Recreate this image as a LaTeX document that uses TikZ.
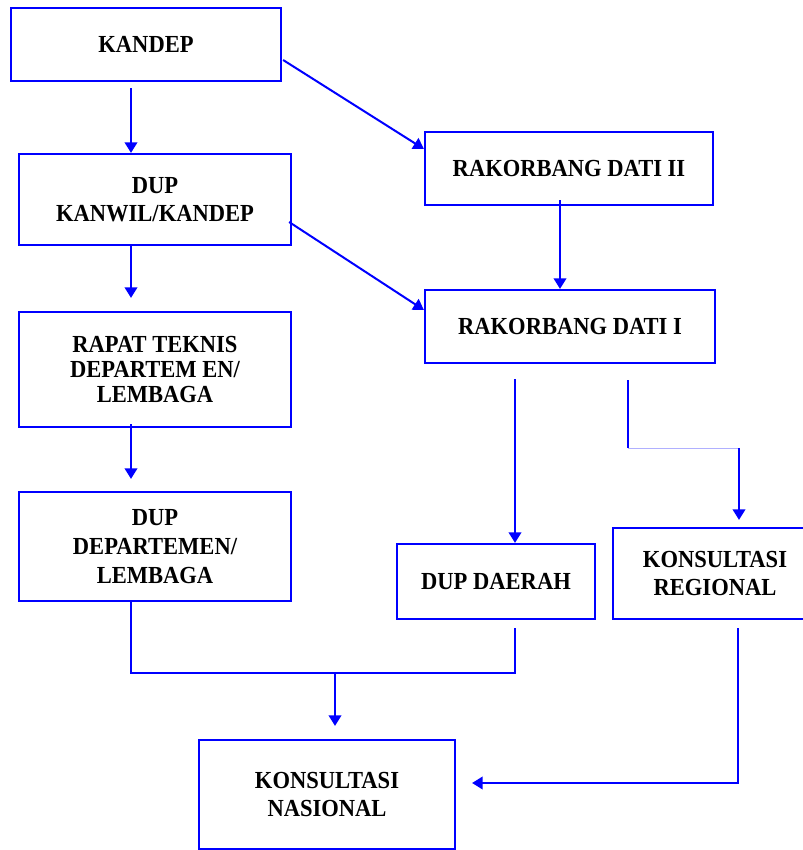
\documentclass[tikz,border=0pt]{standalone}
\usepackage{fontspec}
\setmainfont{Liberation Serif}[FakeStretch=0.92]
\usetikzlibrary{arrows.meta,calc}
\definecolor{lineblue}{RGB}{0,0,255}
\definecolor{faintblue}{RGB}{176,176,255}
\begin{document}
\begin{tikzpicture}[x=1pt,y=-1pt,
  box/.style={draw=lineblue, line width=2.2pt, inner sep=0pt, align=center,
              font=\fontsize{24.5}{28}\selectfont\bfseries},
  conn/.style={draw=lineblue, line width=2pt},
  arr/.style={conn, -{Triangle[length=10.5pt,width=12.5pt]}},
  faint/.style={draw=faintblue, line width=1pt}]
\useasboundingbox[fill=white] (0,0) rectangle (802,850);
% boxes
\node[box, minimum width=270pt, minimum height=73pt] (kandep) at (146,44.5) {KANDEP};
\node[box, minimum width=272pt, minimum height=91pt] (kanwil) at (155,199.5) {DUP\\KANWIL/KANDEP};
\node[box, minimum width=272pt, minimum height=115pt, font=\fontsize{24.5}{25}\selectfont\bfseries] (rapat) at (155,369.5) {RAPAT TEKNIS\\DEPARTEM EN/\\LEMBAGA};
\node[box, minimum width=272pt, minimum height=109pt, font=\fontsize{24.5}{29}\selectfont\bfseries] (dupdep) at (155,546.5) {DUP\\DEPARTEMEN/\\LEMBAGA};
\node[box, minimum width=288pt, minimum height=73pt] (rak2) at (569,168.5) {RAKORBANG DATI II};
\node[box, minimum width=290pt, minimum height=73pt] (rak1) at (570,326.5) {RAKORBANG DATI I};
\node[box, minimum width=198pt, minimum height=75pt] (daerah) at (496,581.5) {DUP DAERAH};
\node[box, minimum width=204pt, minimum height=91pt] (regional) at (715,573.5) {KONSULTASI\\REGIONAL};
\node[box, minimum width=256pt, minimum height=109pt] (nasional) at (327,794.5) {KONSULTASI\\NASIONAL};
% helper coordinates
\coordinate (xL) at (131,0);
\coordinate (xA) at (560,0);
\coordinate (xB) at (515,0);
\coordinate (xC) at (628,0);
\coordinate (xD) at (739,0);
\coordinate (xM) at (335,0);
\coordinate (xE) at (738,0);
\coordinate (yR) at (0,448);
\coordinate (yB) at (0,673);
\coordinate (yN) at (0,783);
% connectors
\draw[arr] ($(kandep.south -| xL)+(0,6)$) -- (kanwil.north -| xL);
\draw[arr] ($(kanwil.south -| xL)+(0,-2)$) -- ($(rapat.north -| xL)+(0,-13)$);
\draw[arr] ($(rapat.south -| xL)+(0,-4)$) -- ($(dupdep.north -| xL)+(0,-12)$);
\draw[arr] ($(kandep.east)+(1,15.5)$) -- ($(rak2.west)+(0,-19.5)$);
\draw[arr] ($(kanwil.east)+(-3,22.5)$) -- ($(rak1.west)+(0,-16.5)$);
\draw[arr] ($(rak2.south -| xA)+(0,-6)$) -- (rak1.north -| xA);
\draw[arr] ($(rak1.south -| xB)+(0,15)$) -- (daerah.north -| xB);
\draw[conn] ($(rak1.south -| xC)+(0,16)$) -- (xC |- yR);
\draw[faint] (xC |- yR) -- (xD |- yR);
\draw[arr] (xD |- yR) -- ($(regional.north -| xD)+(0,-7)$);
\draw[conn] (dupdep.south -| xL) -- (xL |- yB) -- (xB |- yB) -- ($(daerah.south -| xB)+(0,8)$);
\draw[arr] (xM |- yB) -- ($(nasional.north -| xM)+(0,-13)$);
\draw[arr] ($(regional.south -| xE)+(0,8)$) -- (xE |- yN) -- ($(nasional.east |- yN)+(16,0)$);
\end{tikzpicture}
\end{document}
